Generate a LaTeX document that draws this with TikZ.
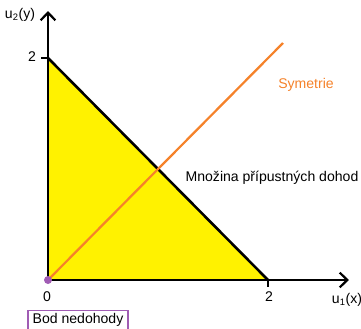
\documentclass[tikz,border=0pt]{standalone}
\usepackage{fontspec}
\setmainfont{Liberation Sans}
\usetikzlibrary{positioning,arrows.meta}
\definecolor{dealyellow}{HTML}{FFF200}
\definecolor{symorange}{HTML}{F5822A}
\definecolor{nodealpurple}{HTML}{A05CB4}
\tikzset{
  axis/.style={-{Straight Barb[length=2.3mm,width=4.4mm]}, line width=1.9pt},
  frontier/.style={line width=2.2pt, line cap=round},
  symline/.style={symorange, line width=1.9pt},
  tickmark/.style={line width=1.6pt},
  lbl/.style={font=\fontsize{12}{14}\selectfont, inner sep=1pt},
  disagree/.style={draw=nodealpurple, line width=1.6pt, lbl,
    minimum width=3cm, minimum height=0.57cm, inner sep=1pt},
}

\begin{document}
\begin{tikzpicture}[x=0.03cm, y=-0.03cm]
\useasboundingbox (0,0) rectangle (361,328);

% axes points
\coordinate (O) at (48,280);
\coordinate (ytop) at (48,11);
\coordinate (xend) at (349,280);
\coordinate (y2) at (48,58);
\coordinate (x2) at (268,280);
\coordinate (symend) at (283,43);

% feasible set
\fill[dealyellow] (O) -- (y2) -- (x2) -- cycle;

% axes
\draw[axis] (O) -- (ytop);
\draw[axis] (O) -- (xend);
\draw[tickmark] (y2) -- ++(-7,0);
\draw[tickmark] (x2) -- ++(0,7);

% frontier and symmetry
\draw[frontier] (y2) -- (x2);
\draw[symline] (O) -- (symend);

% disagreement point
\fill[nodealpurple] (O) circle (4);

% labels
\node[lbl] (ylab) at (20,15) {u\textsubscript{2}(y)};
\node[lbl] (xlab) at (347,300) {u\textsubscript{1}(x)};
\node[lbl] (ytwo) at (32,57) {2};
\node[lbl] (xtwo) at (269,297) {2};
\node[lbl] (zero) at (47,297) {0};
\node[lbl, text=symorange] (symlab) at (306,85) {Symetrie};
\node[lbl] (setlab) at (272,178) {Množina přípustných dohod};
\node[disagree] (bod) at (78,320) {Bod nedohody};

\end{tikzpicture}
\end{document}
